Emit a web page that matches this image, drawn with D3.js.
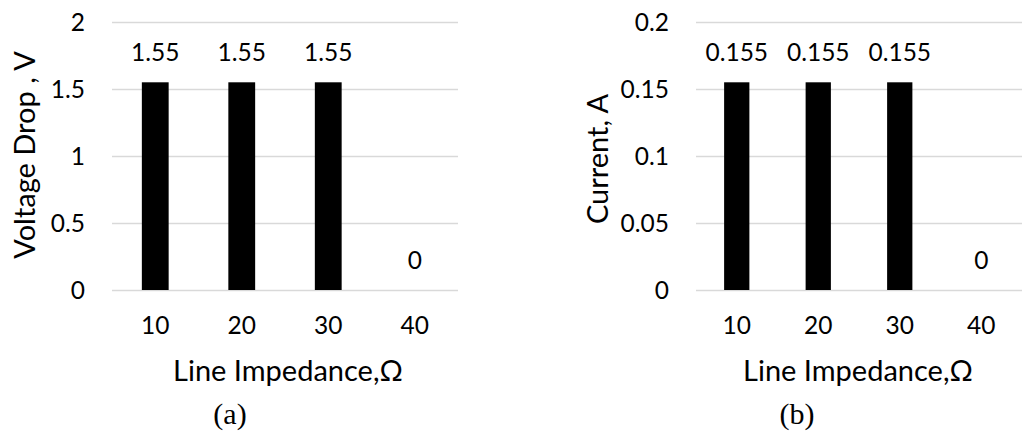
<!DOCTYPE html>
<html><head><meta charset="utf-8">
<script src="https://cdn.jsdelivr.net/npm/d3@7"></script>
<style>html,body{margin:0;padding:0;background:#fff;}svg{display:block;}</style>
</head><body>
<svg id="chart" width="1035" height="434"></svg>
<script>
const categories = ["10", "20", "30", "40"];
const voltageDrop = [1.55, 1.55, 1.55, 0];
const current = [0.155, 0.155, 0.155, 0];
const voltageTicks = [0, 0.5, 1, 1.5, 2];
const currentTicks = [0, 0.05, 0.1, 0.15, 0.2];
const xTitle = "Line Impedance,\u03A9";
const yTitleA = "Voltage Drop , V";
const yTitleB = "Current, A";
const captions = ["(a)", "(b)"];

const svg = d3.select("#chart");
const FONT = "Lato, 'Open Sans', sans-serif";
const TICK_FS = 24.5;
const TITLE_FS = 29;

function panel(o) {
  const g = svg.append("g");
  const x = d3.scaleBand().domain(categories).range([o.x0, o.x1]).paddingInner(0.69).paddingOuter(0.345);
  const xc = d3.scaleBand().domain(categories).range([o.x0, o.x1]);
  const y = d3.scaleLinear().domain([o.ticks[0], o.ticks[o.ticks.length - 1]]).range([290, 22]);

  // gridlines + y tick labels
  const yAxis = d3.axisLeft(y).tickValues(o.ticks).tickSize(-(o.x1 - o.x0)).tickPadding(27).tickFormat(d => String(d));
  const ya = g.append("g").attr("transform", `translate(${o.x0},0)`).call(yAxis);
  ya.select(".domain").remove();
  ya.selectAll(".tick line").attr("stroke", "#d9d9d9").attr("stroke-width", 1.5);
  ya.selectAll(".tick text").attr("font-family", FONT).attr("font-size", TICK_FS).attr("fill", "#000").attr("dy", "0.36em");

  // bars
  g.selectAll("rect.bar").data(o.values).join("rect").attr("class", "bar")
    .attr("x", (d, i) => x(categories[i]))
    .attr("width", x.bandwidth())
    .attr("y", d => y(d))
    .attr("height", d => y(0) - y(d))
    .attr("fill", "#000");

  // value labels
  g.selectAll("text.val").data(o.values).join("text").attr("class", "val")
    .attr("x", (d, i) => xc(categories[i]) + xc.bandwidth() / 2)
    .attr("y", d => y(d) - 21)
    .attr("text-anchor", "middle")
    .attr("font-family", FONT).attr("font-size", TICK_FS).attr("fill", "#000")
    .text(d => String(d));

  // x axis labels
  const xAxis = d3.axisBottom(xc).tickSize(0).tickPadding(0);
  const xa = g.append("g").attr("transform", "translate(0,290)").call(xAxis);
  xa.select(".domain").remove();
  xa.selectAll(".tick text").attr("font-family", FONT).attr("font-size", TICK_FS).attr("fill", "#000").attr("dy", null).attr("y", 44);

  // x title
  g.append("text").attr("x", o.xTitleX).attr("y", 381).attr("text-anchor", "middle")
    .attr("font-family", FONT).attr("font-size", TITLE_FS).attr("fill", "#000").text(xTitle);

  // y title
  g.append("text").attr("transform", `translate(${o.yTitleX},${o.yTitleY}) rotate(-90)`)
    .attr("text-anchor", "middle").attr("font-family", FONT).attr("font-size", TITLE_FS).attr("fill", "#000").text(o.yTitle);

  // caption
  g.append("text").attr("x", o.capX).attr("y", 424).attr("text-anchor", "middle")
    .attr("font-family", "'Liberation Serif', 'Times New Roman', serif").attr("font-size", 30).attr("fill", "#000").text(o.caption);
}

panel({x0: 112, x1: 458, values: voltageDrop, ticks: voltageTicks, yTitle: yTitleA, yTitleX: 35, yTitleY: 155, xTitleX: 288, capX: 230, caption: captions[0]});
panel({x0: 696, x1: 1022, values: current, ticks: currentTicks, yTitle: yTitleB, yTitleX: 608, yTitleY: 159, xTitleX: 858, capX: 797, caption: captions[1]});
</script>
</body></html>
